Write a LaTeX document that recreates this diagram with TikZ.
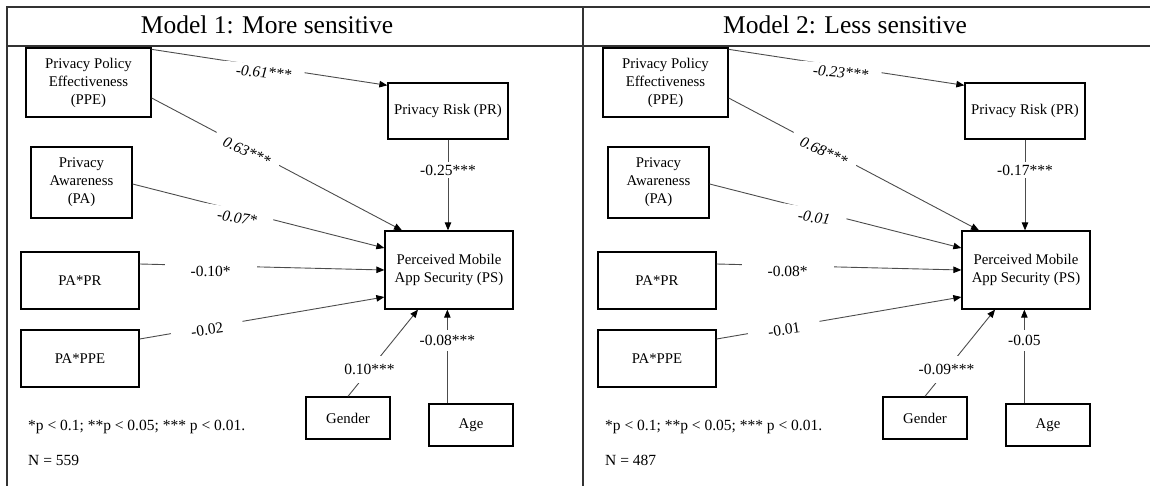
\documentclass[tikz,border=0pt]{standalone}
\usepackage{fontspec}
\setmainfont{Liberation Serif}
\usetikzlibrary{arrows.meta,calc}

\tikzset{
  box/.style={draw=black, line width=1.3pt, align=center,
    font=\fontsize{14.8}{18}\selectfont, inner sep=2pt},
  conn/.style={draw=black!70, line width=0.9pt,
    -{Triangle[length=8pt,width=6.5pt,color=black]}},
  coef/.style={fill=white, inner xsep=10pt, inner ysep=3pt,
    font=\fontsize{15.5}{18}\selectfont},
  icoef/.style={coef, font=\fontsize{15.5}{18}\selectfont\itshape},
  note/.style={anchor=west, inner sep=0pt, font=\fontsize{15.5}{18}\selectfont},
  heading/.style={anchor=base, inner sep=0pt, font=\fontsize{25.5}{30}\selectfont},
  frame/.style={draw=black!80, line width=1.8pt},
}

% One structural model: eight path coefficients and the sample size
\newcommand\pathmodel[9]{%
  \node[box, minimum width=125pt, minimum height=69pt] (ppe) at (88.5,82.5)
    {Privacy Policy\\Effectiveness\\(PPE)};
  \node[box, minimum width=120pt, minimum height=56pt] (pr) at (448,111)
    {Privacy Risk (PR)};
  \node[box, minimum width=101pt, minimum height=71pt] (pa) at (81.5,182.5)
    {Privacy\\Awareness\\(PA)};
  \node[box, minimum width=128pt, minimum height=78pt] (ps) at (449,270)
    {Perceived Mobile\\App Security (PS)};
  \node[box, minimum width=118pt, minimum height=57pt] (papr) at (80,280.5) {PA*PR};
  \node[box, minimum width=118pt, minimum height=57pt] (pappe) at (80,358.5) {PA*PPE};
  \node[box, minimum width=84pt, minimum height=42pt] (gender) at (348,418) {Gender};
  \node[box, minimum width=84pt, minimum height=42pt] (age) at (471,425) {Age};
  \node[note] (sig) at (28,427) {*p < 0.1; **p < 0.05; *** p < 0.01.};
  \node[note] (n) at (28,460) {N = #9};
  \draw[conn] ($(ppe.north east)+(0,2)$) --
    node[icoef, pos=0.475, yshift=-6pt, rotate=-5, inner xsep=13pt] {#1}
    ($(pr.north west)+(0,3)$);
  \draw[conn] ($(ppe.east)+(0,15.5)$) --
    node[icoef, pos=0.38, yshift=-3pt, rotate=-25, inner xsep=10pt] {#2}
    ($(ps.north)+(-47,0)$);
  \draw[conn] ($(pa.east)+(0,1.5)$) --
    node[icoef, pos=0.415, yshift=-7pt, rotate=-9, inner xsep=16pt, inner ysep=4pt] {#3}
    ($(ps.west)+(0,-22)$);
  \draw[conn] (pr.south) --
    node[coef, pos=0.337, inner xsep=2pt] {#4}
    (pr.south |- ps.north);
  \draw[conn] ($(papr.east)+(0,-16.5)$) --
    node[coef, pos=0.29, yshift=-6pt, inner xsep=26pt] {#5}
    (ps.west);
  \draw[conn] ($(pappe.east)+(0,-19.5)$) --
    node[coef, pos=0.276, yshift=-2.5pt, rotate=8, inner xsep=20pt] {#6}
    ($(ps.west)+(0,27)$);
  \draw[conn] (gender.north) --
    node[coef, pos=0.307, inner xsep=1pt, inner ysep=8pt] {#7}
    ($(ps.south)+(-31,0)$);
  \draw[conn] ($(age.north west)+(19,0)$) --
    node[coef, pos=0.67, inner xsep=1pt, inner ysep=5pt] {#8}
    ($(ps.south west)+(63,0)$);
}

\begin{document}
\begin{tikzpicture}[x=1pt, y=-1pt]
  \useasboundingbox (0,0) rectangle (1150,486);
  % table frame
  \draw[frame] (7,486) -- (7,7) -- (1150,7);
  \draw[frame] (7,46) -- (1150,46);
  \draw[frame] (583,7) -- (583,486);
  \node[heading] (t1) at (267,33.5) {Model 1: More sensitive};
  \node[heading] (t2) at (845,33.5) {Model 2: Less sensitive};
  \begin{scope}[name prefix=m1-]
    \pathmodel{-0.61***}{0.63***}{-0.07*}{-0.25***}{-0.10*}{-0.02}{0.10***}{-0.08***}{559}
  \end{scope}
  \begin{scope}[xshift=577pt, name prefix=m2-]
    \pathmodel{-0.23***}{0.68***}{-0.01}{-0.17***}{-0.08*}{-0.01}{-0.09***}{-0.05}{487}
  \end{scope}
\end{tikzpicture}
\end{document}
